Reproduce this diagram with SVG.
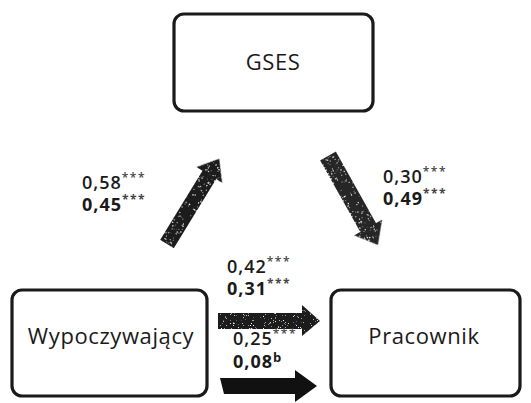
<svg xmlns="http://www.w3.org/2000/svg" width="531" height="403" viewBox="0 0 531 403">
<defs>
<style>
.box{fill:#fff;stroke:#1a1a1a;stroke-width:3.2}
.nlab{font-family:"Open Sans","Noto Sans","DejaVu Sans",sans-serif;font-size:22px;font-weight:500;fill:#1a1a1a;text-anchor:middle;letter-spacing:0.6px}
.elab{font-family:"Open Sans","Noto Sans","DejaVu Sans",sans-serif;font-size:18px;font-weight:600;fill:#1a1a1a;letter-spacing:1px}
.b{font-weight:700}
.sup{font-size:12px;fill:#444;letter-spacing:1.5px}
.arr{fill:#1b1b1b}
</style>
<filter id="speck" x="0" y="0" width="1" height="1">
<feTurbulence type="fractalNoise" baseFrequency="1.6" numOctaves="1" seed="4" result="n"/>
<feColorMatrix in="n" type="matrix" values="0 0 0 0 1 0 0 0 0 1 0 0 0 0 1 10 0 0 0 -6.6" result="dots"/>
<feComposite in="dots" in2="SourceGraphic" operator="in" result="d2"/>
<feMerge><feMergeNode in="SourceGraphic"/><feMergeNode in="d2"/></feMerge>
</filter>
</defs>
<rect width="531" height="403" fill="#fff"/>
<g id="node-gses">
<rect class="box" x="174" y="14" width="199" height="97" rx="10"/>
<text class="nlab" x="273" y="70">GSES</text>
</g>
<g id="node-wypoczywajacy">
<rect class="box" x="12" y="290" width="195" height="106" rx="10"/>
<text class="nlab" x="111" y="344">Wypoczywający</text>
</g>
<g id="node-pracownik">
<rect class="box" x="331" y="290" width="189" height="106" rx="10"/>
<text class="nlab" x="424" y="344">Pracownik</text>
</g>
<g id="connectors">
<path class="arr" filter="url(#speck)" transform="translate(167,244) rotate(-58.5)" d="M0,-8 L81,-8 L81,-15 L100,0 L81,15 L81,8 L0,8 Z"/>
<path class="arr" filter="url(#speck)" style="fill:#262626" transform="translate(328,156) rotate(60.7)" d="M0,-9 L82,-9 L82,-16 L102,0 L82,16 L82,9 L0,9 Z"/>
<path class="arr" filter="url(#speck)" d="M218,313 L302,313 L302,305 L320,321 L302,336 L302,329 L218,329 Z"/>
<path class="arr" style="fill:#111" d="M220,378 L295,378 L295,370 L317,386 L295,402 L295,394 L224,394 Z"/>
</g>
<g id="labels">
<text class="elab" x="82" y="189">0,58<tspan class="sup" dy="-7">***</tspan></text>
<text class="elab b" x="82" y="211">0,45<tspan class="sup" dy="-7">***</tspan></text>
<text class="elab" x="383" y="183">0,30<tspan class="sup" dy="-7">***</tspan></text>
<text class="elab b" x="383" y="205">0,49<tspan class="sup" dy="-7">***</tspan></text>
<text class="elab" x="227" y="273">0,42<tspan class="sup" dy="-7">***</tspan></text>
<text class="elab b" x="227" y="295">0,31<tspan class="sup" dy="-7">***</tspan></text>
<text class="elab" x="233" y="345">0,25<tspan class="sup" dy="-7">***</tspan></text>
<text class="elab b" x="233" y="368">0,08<tspan class="sup" dy="-6" style="font-size:13px;fill:#1a1a1a">b</tspan></text>
</g>
</svg>
